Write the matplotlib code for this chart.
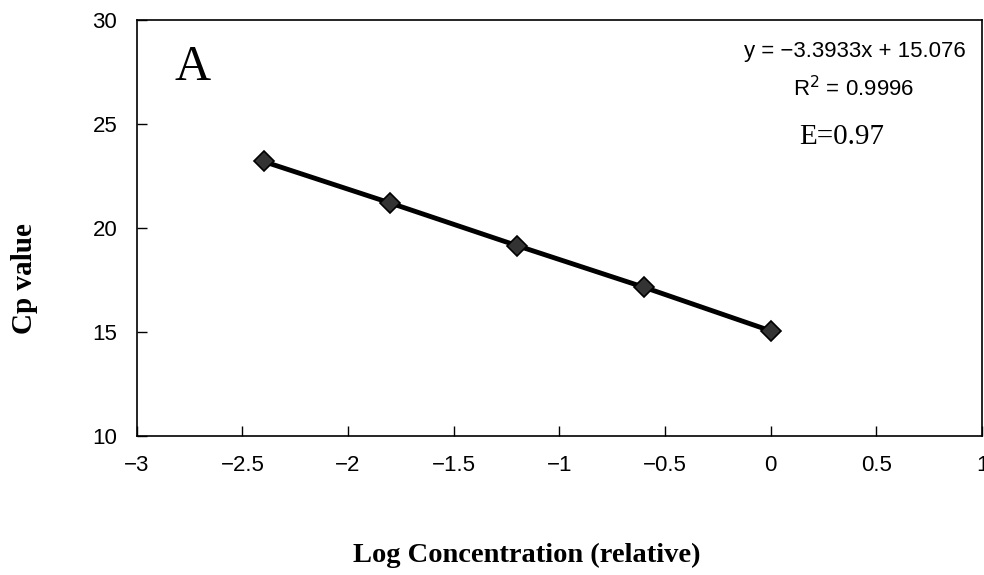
import matplotlib.pyplot as plt

# Standard curve data (log relative concentration vs Cp)
log_conc = [-2.4, -1.8, -1.2, -0.6, 0.0]
cp_values = [23.20, 21.20, 19.15, 17.15, 15.05]

x_ticks = [-3, -2.5, -2, -1.5, -1, -0.5, 0, 0.5, 1]
x_tick_labels = ['\u22123', '\u22122.5', '\u22122', '\u22121.5', '\u22121', '\u22120.5', '0', '0.5', '1']
y_ticks = [10, 15, 20, 25, 30]

equation = 'y = \u22123.3933x + 15.076'
r_squared = 'R$^2$ = 0.9996'
efficiency = 'E=0.97'

sans = ['Liberation Sans Narrow', 'Liberation Sans', 'DejaVu Sans']
serif = ['Liberation Serif', 'DejaVu Serif']

fig = plt.figure(figsize=(9.84, 5.75), dpi=100)
ax = fig.add_axes([0.139, 0.242, 0.859, 0.723])

ax.plot(log_conc, cp_values, color='black', linewidth=3.5, marker='D', markersize=10,
        markerfacecolor='#333333', markeredgecolor='black', markeredgewidth=1.2)

ax.set_xlim(-3, 1)
ax.set_ylim(10, 30)
ax.set_xticks(x_ticks)
ax.set_xticklabels(x_tick_labels)
ax.set_yticks(y_ticks)
ax.tick_params(direction='in', length=7, width=1, pad=14, labelsize=16)
for lbl in ax.get_xticklabels() + ax.get_yticklabels():
    lbl.set_family(sans)
for s in ax.spines.values():
    s.set_linewidth(1.2)

ax.set_xlabel('Log Concentration (relative)', family=serif, fontweight='bold',
              fontsize=20.5, va='center')
ax.xaxis.set_label_coords((527 - 137) / 845, (436 - 556) / 416)
ax.set_ylabel('Cp value', family=serif, fontweight='bold', fontsize=21, va='center')
ax.yaxis.set_label_coords((25 - 137) / 845, (436 - 279) / 416)

ax.text(0.066, 0.885, 'A', transform=ax.transAxes, family=serif, fontsize=36,
        ha='center', va='center')
ax.text(0.849, 0.925, equation, transform=ax.transAxes, family=sans, fontsize=16,
        ha='center', va='center')
ax.text(0.848, 0.835, r_squared, transform=ax.transAxes, family=sans, fontsize=16,
        ha='center', va='center')
ax.text(0.834, 0.719, efficiency, transform=ax.transAxes, family=serif, fontsize=21,
        ha='center', va='center')

fig.savefig('out.png', dpi=100)
